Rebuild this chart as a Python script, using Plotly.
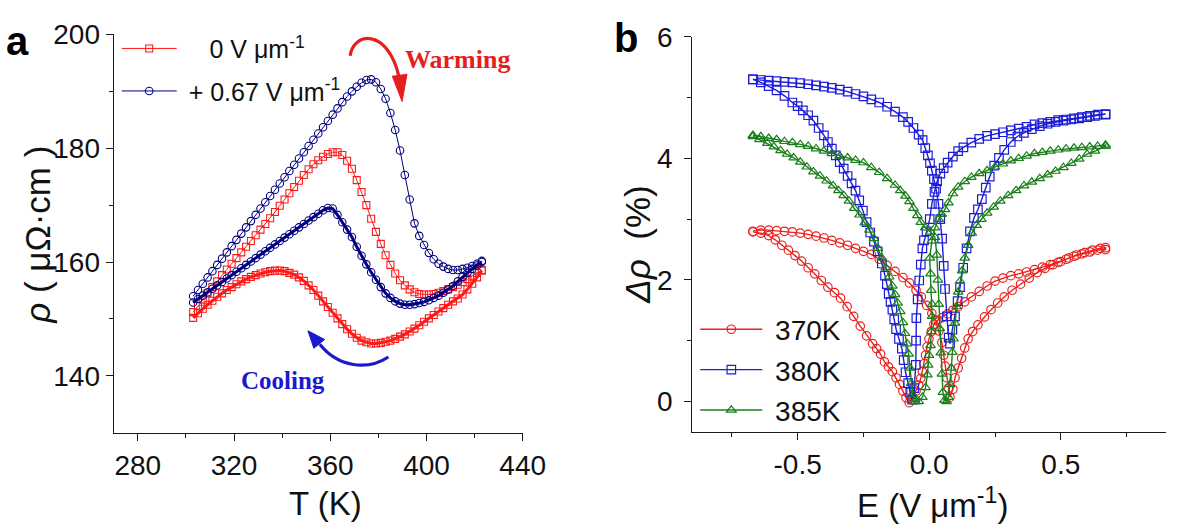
import plotly.graph_objects as go

W, H = 1192, 528

# ---------------- panel a : resistivity loops rho(T) ----------------
T_K = [303, 305, 307, 309, 311, 313, 315, 317, 319, 321, 323, 325, 327, 329, 331,
       333, 335, 337, 339, 341, 343, 345, 347, 349, 351, 353, 355, 357, 359, 361,
       363, 365, 367, 369, 371, 373, 375, 377, 379, 381, 383, 385, 387, 389, 391,
       393, 395, 397, 399, 401, 403, 405, 407, 409, 411, 413, 415, 417, 419, 421, 423]

rho_0V_warm = [151.2, 152.3, 153.4, 154.5, 155.6, 156.6, 157.7, 158.7, 159.7, 160.7,
               161.7, 162.7, 163.7, 164.7, 165.7, 166.7, 167.7, 168.8, 169.9, 171.0,
               172.1, 173.2, 174.3, 175.3, 176.3, 177.2, 177.9, 178.5, 179.0, 179.3,
               179.3, 178.8, 177.8, 176.4, 174.4, 172.3, 170.0, 167.6, 165.3, 163.2,
               161.2, 159.5, 158.0, 156.8, 155.9, 155.2, 154.7, 154.4, 154.3, 154.3,
               154.4, 154.6, 154.9, 155.2, 155.6, 156.0, 156.5, 157.0, 157.6, 158.1, 158.6]
rho_0V_cool = [150.2, 151.0, 151.8, 152.5, 153.2, 153.9, 154.5, 155.1, 155.6, 156.1,
               156.6, 157.0, 157.4, 157.7, 158.0, 158.2, 158.4, 158.5, 158.5, 158.4,
               158.1, 157.8, 157.3, 156.7, 155.9, 155.1, 154.1, 153.1, 152.1, 151.1,
               150.1, 149.1, 148.2, 147.4, 146.7, 146.2, 145.9, 145.7, 145.7, 145.8,
               146.0, 146.2, 146.5, 146.9, 147.3, 147.8, 148.3, 148.9, 149.5, 150.1,
               150.7, 151.3, 151.9, 152.5, 153.1, 153.6, 154.3, 155.2, 156.2, 157.3, 158.5]
rho_067V_warm = [154.0, 155.1, 156.2, 157.3, 158.4, 159.5, 160.6, 161.7, 162.8, 163.9,
                 165.0, 166.1, 167.2, 168.3, 169.4, 170.5, 171.6, 172.7, 173.8, 174.9,
                 176.0, 177.1, 178.2, 179.3, 180.4, 181.5, 182.6, 183.7, 184.8, 185.9,
                 187.0, 188.1, 189.1, 190.0, 190.8, 191.5, 192.0, 192.1, 191.6, 190.4,
                 188.7, 186.2, 183.2, 179.6, 175.3, 171.0, 166.8, 164.6, 163.0, 161.6,
                 160.5, 159.7, 159.2, 158.8, 158.6, 158.6, 158.8, 159.0, 159.3, 159.7, 160.2]
rho_067V_cool = [152.9, 153.5, 154.1, 154.7, 155.3, 155.9, 156.5, 157.1, 157.7, 158.3,
                 158.9, 159.5, 160.1, 160.7, 161.3, 161.9, 162.5, 163.1, 163.7, 164.3,
                 164.9, 165.5, 166.1, 166.7, 167.3, 167.9, 168.5, 169.1, 169.5, 169.4,
                 168.3, 167.0, 165.7, 164.4, 162.7, 161.1, 159.6, 158.2, 156.9, 155.6,
                 154.5, 153.7, 153.1, 152.7, 152.5, 152.5, 152.6, 152.8, 153.0, 153.3,
                 153.7, 154.1, 154.6, 155.2, 155.8, 156.6, 157.4, 158.1, 158.8, 159.4, 160.0]

# ---------------- panel b : butterfly loops delta-rho(E) ----------------
# each loop: sweep from -0.67 up to +0.67, then back down to -0.67
E_370 = [-0.67, -0.64, -0.61, -0.58, -0.55, -0.52, -0.49, -0.46, -0.43, -0.40,
         -0.37, -0.34, -0.31, -0.28, -0.25, -0.22, -0.19, -0.16, -0.13, -0.10,
         -0.075, -0.05, -0.03, -0.01, 0.01, 0.025, 0.037, 0.048, 0.055, 0.061,
         0.067, 0.073, 0.079, 0.09, 0.098, 0.11, 0.123, 0.135, 0.148, 0.165,
         0.185, 0.21, 0.235, 0.26, 0.285, 0.315, 0.347, 0.38, 0.41, 0.44,
         0.47, 0.50, 0.53, 0.56, 0.59, 0.62, 0.65, 0.67,
         0.67, 0.64, 0.61, 0.58, 0.55, 0.52, 0.49, 0.46, 0.43, 0.40,
         0.37, 0.34, 0.31, 0.28, 0.25, 0.22, 0.19, 0.16, 0.135, 0.11,
         0.09, 0.07, 0.05, 0.033, 0.018, 0.008, -0.001, -0.008, -0.014, -0.02,
         -0.026, -0.032, -0.04, -0.05, -0.063, -0.076, -0.088, -0.10, -0.113, -0.126,
         -0.14, -0.155, -0.17, -0.185, -0.20, -0.215, -0.238, -0.262, -0.287, -0.312,
         -0.337, -0.36, -0.385, -0.41, -0.435, -0.46, -0.485, -0.51, -0.535, -0.56,
         -0.585, -0.61, -0.64, -0.67]
D_370 = [2.80, 2.82, 2.82, 2.81, 2.80, 2.79, 2.77, 2.75, 2.72, 2.69,
         2.65, 2.61, 2.57, 2.52, 2.47, 2.42, 2.34, 2.24, 2.14, 2.04,
         1.95, 1.83, 1.72, 1.58, 1.45, 1.33, 1.16, 0.97, 0.76, 0.58,
         0.39, 0.22, 0.07, 0.20, 0.39, 0.55, 0.71, 0.88, 1.03, 1.15,
         1.26, 1.39, 1.51, 1.62, 1.72, 1.83, 1.93, 2.03, 2.12, 2.19,
         2.25, 2.30, 2.36, 2.41, 2.45, 2.49, 2.52, 2.53,
         2.50, 2.49, 2.46, 2.43, 2.39, 2.34, 2.29, 2.25, 2.21, 2.17,
         2.13, 2.10, 2.07, 2.03, 1.98, 1.90, 1.81, 1.72, 1.64, 1.56,
         1.50, 1.44, 1.38, 1.34, 1.27, 1.15, 1.03, 0.90, 0.76, 0.62,
         0.49, 0.38, 0.27, 0.17, 0.07, -0.02, 0.06, 0.17, 0.28, 0.39,
         0.49, 0.57, 0.65, 0.78, 0.87, 0.95, 1.08, 1.24, 1.40, 1.56,
         1.70, 1.79, 1.88, 1.99, 2.10, 2.20, 2.31, 2.40, 2.49, 2.57,
         2.66, 2.73, 2.77, 2.79]

E_380 = [-0.67, -0.64, -0.61, -0.58, -0.55, -0.52, -0.49, -0.46, -0.43, -0.40,
         -0.37, -0.34, -0.31, -0.28, -0.25, -0.22, -0.19, -0.16, -0.13, -0.10,
         -0.08, -0.06, -0.04, -0.025, -0.015, -0.005, 0.003, 0.010, 0.018, 0.026,
         0.035, 0.042, 0.049, 0.055, 0.060, 0.067, 0.074, 0.079, 0.088, 0.098,
         0.108, 0.117, 0.129, 0.142, 0.155, 0.170, 0.185, 0.200, 0.215, 0.230,
         0.247, 0.265, 0.285, 0.310, 0.335, 0.360, 0.390, 0.420, 0.450, 0.480,
         0.510, 0.540, 0.570, 0.600, 0.630, 0.670,
         0.67, 0.64, 0.61, 0.58, 0.55, 0.52, 0.49, 0.46, 0.43, 0.40,
         0.37, 0.34, 0.31, 0.28, 0.25, 0.22, 0.19, 0.16, 0.13, 0.11,
         0.09, 0.07, 0.055, 0.042, 0.030, 0.020, 0.010, 0.002, -0.010, -0.020,
         -0.026, -0.032, -0.038, -0.044, -0.049, -0.050, -0.051, -0.057, -0.065, -0.072,
         -0.080, -0.090, -0.097, -0.104, -0.115, -0.126, -0.133, -0.140, -0.147, -0.154,
         -0.161, -0.168, -0.180, -0.196, -0.210, -0.224, -0.238, -0.252, -0.266, -0.280,
         -0.295, -0.310, -0.325, -0.340, -0.355, -0.370, -0.385, -0.400, -0.420, -0.440,
         -0.460, -0.480, -0.500, -0.520, -0.550, -0.580, -0.610, -0.640, -0.670]
D_380 = [5.30, 5.29, 5.28, 5.27, 5.26, 5.25, 5.24, 5.22, 5.20, 5.18,
         5.16, 5.13, 5.10, 5.06, 5.02, 4.97, 4.92, 4.85, 4.77, 4.68,
         4.60, 4.50, 4.39, 4.30, 4.17, 4.05, 3.92, 3.80, 3.66, 3.50,
         3.25, 3.00, 2.68, 2.23, 1.85, 1.40, 1.05, 0.95, 1.18, 1.40,
         1.65, 1.88, 2.20, 2.52, 2.80, 3.02, 3.16, 3.33, 3.52, 3.70,
         3.88, 4.01, 4.14, 4.27, 4.36, 4.42, 4.48, 4.53, 4.57, 4.60,
         4.62, 4.64, 4.66, 4.68, 4.70, 4.72,
         4.73, 4.72, 4.70, 4.68, 4.66, 4.64, 4.63, 4.60, 4.58, 4.56,
         4.52, 4.49, 4.46, 4.43, 4.40, 4.37, 4.32, 4.26, 4.18, 4.12,
         4.03, 3.93, 3.84, 3.75, 3.62, 3.45, 3.25, 3.00, 2.80, 2.65,
         2.52, 2.25, 1.99, 1.68, 1.37, 1.00, 0.60, 0.22, 0.03, 0.15,
         0.30, 0.48, 0.68, 0.87, 1.03, 1.19, 1.35, 1.51, 1.64, 1.77,
         1.93, 2.07, 2.27, 2.47, 2.63, 2.78, 2.95, 3.14, 3.31, 3.47,
         3.59, 3.71, 3.83, 3.94, 4.05, 4.16, 4.27, 4.38, 4.50, 4.62,
         4.71, 4.79, 4.86, 4.92, 5.03, 5.12, 5.19, 5.25, 5.30]

E_385 = [-0.67, -0.64, -0.61, -0.58, -0.55, -0.52, -0.49, -0.46, -0.43, -0.40,
         -0.37, -0.34, -0.31, -0.28, -0.25, -0.22, -0.19, -0.16, -0.13, -0.11,
         -0.09, -0.075, -0.06, -0.045, -0.032, -0.015, 0.005, 0.022, 0.029, 0.033,
         0.036, 0.040, 0.044, 0.048, 0.052, 0.058, 0.066, 0.073, 0.079, 0.084,
         0.088, 0.092, 0.098, 0.104, 0.110, 0.117, 0.125, 0.135, 0.148, 0.162,
         0.18, 0.198, 0.22, 0.245, 0.27, 0.30, 0.33, 0.36, 0.39, 0.42,
         0.45, 0.48, 0.51, 0.54, 0.57, 0.60, 0.63, 0.67,
         0.67, 0.64, 0.61, 0.58, 0.55, 0.52, 0.49, 0.46, 0.43, 0.40,
         0.37, 0.34, 0.31, 0.28, 0.25, 0.22, 0.19, 0.16, 0.135, 0.11,
         0.09, 0.073, 0.06, 0.047, 0.036, 0.022, 0.010, 0.002, 0.005, 0.008,
         0.011, 0.011, 0.008, 0.005, -0.001, -0.004, -0.007, -0.014, -0.026, -0.040,
         -0.052, -0.057, -0.063, -0.068, -0.073, -0.078, -0.084, -0.092, -0.100, -0.110,
         -0.120, -0.130, -0.140, -0.152, -0.165, -0.180, -0.195, -0.210, -0.227, -0.245,
         -0.265, -0.285, -0.305, -0.325, -0.345, -0.365, -0.390, -0.415, -0.440, -0.465,
         -0.490, -0.515, -0.540, -0.565, -0.590, -0.615, -0.645, -0.670]
D_385 = [4.38, 4.36, 4.33, 4.31, 4.28, 4.26, 4.23, 4.20, 4.16, 4.12,
         4.08, 4.04, 4.01, 3.97, 3.93, 3.85, 3.77, 3.67, 3.56, 3.47,
         3.38, 3.29, 3.18, 3.06, 2.95, 2.86, 2.79, 2.70, 2.41, 2.00,
         1.60, 1.20, 0.80, 0.45, 0.15, 0.02, 0.00, 0.07, 0.28, 0.55,
         0.81, 1.03, 1.29, 1.56, 1.80, 1.98, 2.15, 2.36, 2.57, 2.77,
         2.90, 3.00, 3.10, 3.20, 3.30, 3.39, 3.47, 3.55, 3.61, 3.67,
         3.73, 3.79, 3.85, 3.92, 3.99, 4.07, 4.12, 4.20,
         4.22, 4.20, 4.19, 4.18, 4.17, 4.16, 4.14, 4.12, 4.10, 4.08,
         4.04, 4.00, 3.96, 3.91, 3.86, 3.80, 3.75, 3.69, 3.62, 3.53,
         3.42, 3.27, 3.16, 3.08, 3.00, 2.86, 2.64, 2.36, 2.10, 1.83,
         1.60, 1.40, 1.15, 0.92, 0.76, 0.60, 0.44, 0.23, 0.07, 0.00,
         0.00, 0.00, 0.12, 0.30, 0.55, 0.78, 0.95, 1.12, 1.30, 1.48,
         1.62, 1.76, 1.90, 2.05, 2.20, 2.36, 2.52, 2.68, 2.82, 2.94,
         3.07, 3.18, 3.30, 3.39, 3.47, 3.55, 3.63, 3.71, 3.78, 3.86,
         3.94, 4.01, 4.07, 4.13, 4.19, 4.25, 4.31, 4.36]

for a, b in [(E_370, D_370), (E_380, D_380), (E_385, D_385)]:
    assert len(a) == len(b), (len(a), len(b))
for r in [rho_0V_warm, rho_0V_cool, rho_067V_warm, rho_067V_cool]:
    assert len(r) == len(T_K)

RED_A, NAVY_A = "#ff1a1a", "#000080"
RED_B, BLUE_B, GREEN_B = "#e8231f", "#1c1cd9", "#1b7f1b"
SANS = "Liberation Sans, Arial, sans-serif"
SERIF = "Liberation Serif, Times New Roman, serif"
INK = "#1a1a1a"
NB = "\u00a0"

fig = go.Figure()

# panel a traces
fig.add_trace(go.Scatter(x=T_K, y=rho_0V_warm, mode="lines+markers",
                         name=NB + NB * 3 + "0 V \u03bcm<sup>-1</sup>",
                         line=dict(color=RED_A, width=1),
                         marker=dict(symbol="square-open", size=7, color=RED_A, line=dict(width=1.1)),
                         xaxis="x", yaxis="y", legend="legend", legendgroup="a1"))
fig.add_trace(go.Scatter(x=T_K, y=rho_0V_cool, mode="lines+markers", showlegend=False,
                         line=dict(color=RED_A, width=3),
                         marker=dict(symbol="square-open", size=7, color=RED_A, line=dict(width=1.1)),
                         xaxis="x", yaxis="y"))
fig.add_trace(go.Scatter(x=T_K, y=rho_067V_warm, mode="lines+markers",
                         name=NB + "+ 0.67 V \u03bcm<sup>-1</sup>",
                         line=dict(color=NAVY_A, width=1),
                         marker=dict(symbol="circle-open", size=7.5, color=NAVY_A, line=dict(width=1.1)),
                         xaxis="x", yaxis="y", legend="legend", legendgroup="a2"))
fig.add_trace(go.Scatter(x=T_K, y=rho_067V_cool, mode="lines+markers", showlegend=False,
                         line=dict(color=NAVY_A, width=3),
                         marker=dict(symbol="circle-open", size=7.5, color=NAVY_A, line=dict(width=1.1)),
                         xaxis="x", yaxis="y"))

# panel b traces
for E, D, name, col, sym in [(E_370, D_370, "370K", RED_B, "circle-open"),
                             (E_380, D_380, "380K", BLUE_B, "square-open"),
                             (E_385, D_385, "385K", GREEN_B, "triangle-up-open")]:
    fig.add_trace(go.Scatter(x=E, y=D, mode="lines+markers", name=NB + name,
                             line=dict(color=col, width=1.4),
                             marker=dict(symbol=sym, size=8.5, color=col, line=dict(width=1.2)),
                             xaxis="x2", yaxis="y2", legend="legend2", legendgroup=name))

axis_common = dict(showline=True, linecolor=INK, linewidth=1.4, ticks="outside",
                   ticklen=7, tickwidth=1.4, tickcolor=INK, showgrid=False, zeroline=False,
                   tickfont=dict(family=SANS, size=28, color="#111"), mirror=False)
minor_common = dict(ticklen=4, tickwidth=1.4, tickcolor=INK, ticks="outside")

fig.update_layout(
    width=W, height=H, margin=dict(l=0, r=0, t=0, b=0), autosize=False,
    paper_bgcolor="white", plot_bgcolor="white",
    xaxis=dict(domain=[116 / W, 533 / W], range=[270, 440], anchor="y",
               tickvals=[280, 320, 360, 400, 440],
               minor=dict(tickvals=[300, 340, 380, 420], **minor_common),
               **axis_common),
    yaxis=dict(domain=[1 - 430 / H, 1 - 20 / H], range=[130, 200], anchor="x",
               tickvals=[140, 160, 180, 200],
               minor=dict(tickvals=[150, 170, 190], **minor_common),
               **axis_common),
    xaxis2=dict(domain=[706 / W, 1189 / W], range=[-0.9, 0.9], anchor="y2",
                tickvals=[-0.5, 0, 0.5], ticktext=["-0.5", "0.0", "0.5"],
                minor=dict(tickvals=[-0.75, -0.25, 0.25, 0.75], **minor_common),
                **axis_common),
    yaxis2=dict(domain=[1 - 429 / H, 1 - 22.5 / H], range=[-0.5, 6], anchor="x2",
                tickvals=[0, 2, 4, 6], ticklabelstandoff=6,
                minor=dict(tickvals=[1, 3, 5], **minor_common),
                **axis_common),
    legend=dict(x=119 / W, y=1 - 11 / H, xanchor="left", yanchor="top",
                bgcolor="rgba(0,0,0,0)", itemwidth=55, tracegroupgap=7,
                font=dict(family=SANS, size=25, color="#111")),
    legend2=dict(x=709 / W, y=1 - 298 / H, xanchor="left", yanchor="top",
                 bgcolor="rgba(0,0,0,0)", itemwidth=62, tracegroupgap=1,
                 font=dict(family=SANS, size=28, color="#111")),
)


def to_paper(x, y):
    return x / W, 1 - y / H


def note(x, y, text, size, family=SANS, color="#111", angle=0, bold=False):
    px, py = to_paper(x, y)
    fig.add_annotation(x=px, y=py, xref="paper", yref="paper", text=text, showarrow=False,
                       textangle=angle, xanchor="center", yanchor="middle",
                       font=dict(family=family, size=size, color=color,
                                 weight="bold" if bold else "normal"))


# panel letters
note(18, 27, "a", 40, color="#000", bold=True)
note(638, 24, "b", 40, color="#000", bold=True)

# axis titles
note(332, 503, "T (K)", 33)
note(38, 226, "<i>\u03c1</i> ( \u03bc\u03a9\u00b7cm )", 35, angle=-90)
note(951, 502, "E (V \u03bcm<sup>-1</sup>)", 33)
note(650, 236, "<i>\u0394\u03c1</i>  (%)", 35, angle=-90)

# sweep-direction labels
note(466, 46, "Warming", 26, family=SERIF, color="#e61e1e", bold=True)
note(289, 376, "Cooling", 25, family=SERIF, color="#1a1acc", bold=True)


def path_px(cmds):
    """Build an SVG path in paper units from (command, [(x, y), ...]) pixel pairs."""
    out = []
    for c, pts in cmds:
        coords = " ".join("%.5f,%.5f" % to_paper(x, y) for x, y in pts)
        out.append(c + " " + coords if coords else c)
    return " ".join(out)


def curved_arrow(p0, c1, c2, p1, head, color):
    fig.add_shape(type="path", xref="paper", yref="paper",
                  path=path_px([("M", [p0]), ("C", [c1, c2, p1])]),
                  line=dict(color=color, width=3.2))
    fig.add_shape(type="path", xref="paper", yref="paper",
                  path=path_px([("M", [head[0]]), ("L", [head[1]]), ("L", [head[2]]), ("Z", [])]),
                  line=dict(color=color, width=1), fillcolor=color)


curved_arrow((357, 42), (360, 18), (395, 12), (407, 64),
             [(400, 63), (415, 61), (410, 89)], "#e61e1e")
curved_arrow((396, 352), (375, 366), (345, 363), (326, 339),
             [(320, 343), (331, 334), (314, 325)], "#1a1acc")

fig.write_html("out.html")
